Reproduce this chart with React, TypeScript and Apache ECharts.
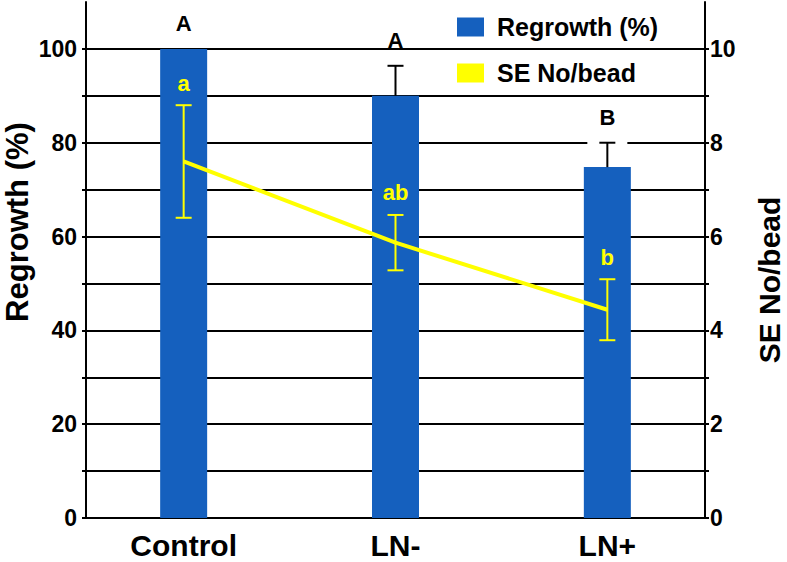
import React, { useEffect, useRef } from "react";
import * as echarts from "echarts";

// Treatment groups
const categories = ["Control", "LN-", "LN+"];

// Regrowth (%) — bar means and upper standard errors
const regrowth = [100, 90, 74.8];
const regrowthErr = [0, 6.4, 5.2];
const regrowthLetters = ["A", "A", "B"];

// Somatic embryos per bead — means and standard errors
const seNo = [7.6, 5.87, 4.44];
const seNoErr = [1.2, 0.59, 0.65];
const seNoLetters = ["a", "ab", "b"];

// Axis tick labels
const leftTicks = [0, 20, 40, 60, 80, 100];
const rightTicks = [0, 2, 4, 6, 8, 10];

const FONT = '"Liberation Sans", Arial, Helvetica, sans-serif';
const BLUE = "#1560BE";
const YELLOW = "#FFFF00";

export default function App() {
  const ref = useRef<HTMLDivElement>(null);

  useEffect(() => {
    if (!ref.current) return;
    const chart = echarts.init(ref.current, undefined, { renderer: "svg" });

    const barData = categories.map((_, i) => [i, regrowth[i]]);
    const barErrData = categories.map((_, i) => [i, regrowth[i], regrowthErr[i], i]);
    const lineData = categories.map((_, i) => [i, seNo[i]]);
    const lineErrData = categories.map((_, i) => [i, seNo[i], seNoErr[i], i]);

    const option: echarts.EChartsOption = {
      animation: false,
      backgroundColor: "#ffffff",
      textStyle: { fontFamily: FONT },
      grid: { left: 86, right: 82, top: 2, bottom: 44, containLabel: false },
      legend: {
        orient: "vertical",
        left: 457,
        top: 14,
        padding: 0,
        itemWidth: 27,
        itemHeight: 19,
        itemGap: 20,
        selectedMode: false,
        textStyle: {
          fontFamily: FONT,
          fontWeight: "bold",
          fontSize: 25,
          lineHeight: 26,
          color: "#000",
          padding: [0, 0, 0, 8],
        },
        data: [
          { name: "Regrowth (%)", icon: "rect" },
          { name: "SE No/bead", icon: "rect" },
        ],
      },
      xAxis: {
        type: "value",
        min: -0.461,
        max: 2.461,
        axisLine: { show: true, onZero: false, lineStyle: { color: "#000", width: 2 } },
        axisTick: { show: false },
        splitLine: { show: false },
        axisLabel: {
          customValues: [0, 1, 2],
          formatter: (v: number) => categories[Math.round(v)] ?? "",
          fontFamily: FONT,
          fontWeight: "bold",
          fontSize: 30,
          lineHeight: 30,
          color: "#000",
          margin: 12,
        },
      },
      yAxis: [
        {
          type: "value",
          min: 0,
          max: 110,
          interval: 10,
          axisLine: { show: true, onZero: false, lineStyle: { color: "#000", width: 2 } },
          axisTick: {
            show: true,
            length: 4,
            customValues: [0, 10, 20, 30, 40, 50, 60, 70, 80, 90, 100],
            lineStyle: { color: "#000", width: 2 },
          },
          splitLine: { show: true, lineStyle: { color: "#000", width: 2 } },
          axisLabel: {
            customValues: leftTicks,
            fontFamily: FONT,
            fontWeight: "bold",
            fontSize: 23,
            color: "#000",
            margin: 9,
          },
        },
        {
          type: "value",
          min: 0,
          max: 11,
          interval: 1,
          position: "right",
          axisLine: { show: true, onZero: false, lineStyle: { color: "#000", width: 2 } },
          axisTick: {
            show: true,
            length: 4,
            customValues: [0, 1, 2, 3, 4, 5, 6, 7, 8, 9, 10],
            lineStyle: { color: "#000", width: 2 },
          },
          splitLine: { show: false },
          axisLabel: {
            customValues: rightTicks,
            fontFamily: FONT,
            fontWeight: "bold",
            fontSize: 23,
            color: "#000",
            margin: 5,
          },
        },
      ],
      graphic: [
        {
          type: "text",
          x: 17,
          y: 222,
          rotation: Math.PI / 2,
          style: {
            text: "Regrowth (%)",
            font: `bold 31px ${FONT}`,
            fill: "#000",
            align: "center",
            verticalAlign: "middle",
          },
        },
        {
          type: "text",
          x: 769,
          y: 280,
          rotation: Math.PI / 2,
          style: {
            text: "SE No/bead",
            font: `bold 30px ${FONT}`,
            fill: "#000",
            align: "center",
            verticalAlign: "middle",
          },
        },
      ],
      series: [
        {
          name: "Regrowth (%)",
          type: "bar",
          xAxisIndex: 0,
          yAxisIndex: 0,
          barWidth: 47,
          color: BLUE,
          itemStyle: { color: BLUE },
          data: barData,
          z: 2,
        },
        {
          name: "regrowth-error",
          type: "custom",
          xAxisIndex: 0,
          yAxisIndex: 0,
          z: 3,
          data: barErrData,
          renderItem: (_params: any, api: any) => {
            const x = api.value(0);
            const m = api.value(1);
            const e = api.value(2);
            const idx = api.value(3);
            const top = api.coord([x, m + e]);
            const base = api.coord([x, m]);
            const children: any[] = [];
            if (e > 0) {
              children.push(
                { type: "rect", shape: { x: top[0] - 20, y: top[1] - 3, width: 40, height: 6 }, style: { fill: "#fff" } },
                { type: "line", shape: { x1: base[0], y1: base[1], x2: top[0], y2: top[1] }, style: { stroke: "#000", lineWidth: 2 } },
                { type: "line", shape: { x1: top[0] - 8, y1: top[1], x2: top[0] + 8, y2: top[1] }, style: { stroke: "#000", lineWidth: 2 } }
              );
            }
            children.push({
              type: "text",
              x: top[0],
              y: top[1] - 25,
              style: {
                text: regrowthLetters[idx],
                font: `bold 22px ${FONT}`,
                fill: "#000",
                align: "center",
                verticalAlign: "middle",
              },
            });
            return { type: "group", children };
          },
        },
        {
          name: "SE No/bead",
          type: "line",
          xAxisIndex: 0,
          yAxisIndex: 1,
          color: YELLOW,
          itemStyle: { color: YELLOW },
          lineStyle: { color: YELLOW, width: 4 },
          showSymbol: false,
          symbol: "none",
          data: lineData,
          z: 4,
        },
        {
          name: "se-error",
          type: "custom",
          xAxisIndex: 0,
          yAxisIndex: 1,
          z: 5,
          data: lineErrData,
          renderItem: (_params: any, api: any) => {
            const x = api.value(0);
            const m = api.value(1);
            const e = api.value(2);
            const idx = api.value(3);
            const hi = api.coord([x, m + e]);
            const lo = api.coord([x, m - e]);
            const stroke = { stroke: YELLOW, lineWidth: 2 };
            return {
              type: "group",
              children: [
                { type: "line", shape: { x1: lo[0], y1: lo[1], x2: hi[0], y2: hi[1] }, style: stroke },
                { type: "line", shape: { x1: hi[0] - 8, y1: hi[1], x2: hi[0] + 8, y2: hi[1] }, style: stroke },
                { type: "line", shape: { x1: lo[0] - 8, y1: lo[1], x2: lo[0] + 8, y2: lo[1] }, style: stroke },
                {
                  type: "text",
                  x: hi[0],
                  y: hi[1] - 22,
                  style: {
                    text: seNoLetters[idx],
                    font: `bold 22px ${FONT}`,
                    fill: YELLOW,
                    align: "center",
                    verticalAlign: "middle",
                  },
                },
              ],
            };
          },
        },
      ],
    };

    chart.setOption(option);
    return () => chart.dispose();
  }, []);

  return (
    <div
      ref={ref}
      style={{ position: "fixed", left: 0, top: 0, width: 787, height: 562 }}
    />
  );
}
